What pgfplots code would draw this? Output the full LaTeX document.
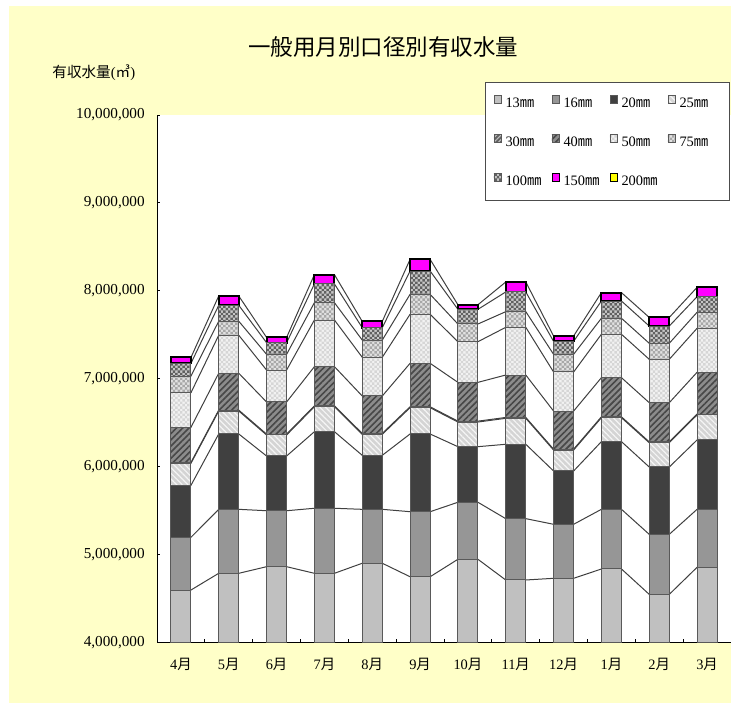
\documentclass[border=0pt]{standalone}
\usepackage{fontspec}
\setmainfont{Liberation Serif}
\newfontfamily\cjk{Noto Sans CJK JP}
\usepackage{pgfplots}
\pgfplotsset{compat=1.18}
\usepackage{pgfplotstable}
\usetikzlibrary{patterns,patterns.meta}

\pgfdeclarepatternformonly{smallcheck}{\pgfqpoint{-0.05pt}{-0.05pt}}{\pgfqpoint{2.45pt}{2.45pt}}{\pgfqpoint{2.4pt}{2.4pt}}{%
 \pgfpathrectangle{\pgfqpoint{0pt}{0pt}}{\pgfqpoint{1.2pt}{1.2pt}}%
 \pgfpathrectangle{\pgfqpoint{1.2pt}{1.2pt}}{\pgfqpoint{1.2pt}{1.2pt}}%
 \pgfusepath{fill}}

\definecolor{bg}{RGB}{255,255,200}
\definecolor{c13}{RGB}{192,192,192}
\definecolor{c16}{RGB}{150,150,150}
\definecolor{c20}{RGB}{64,64,64}
\definecolor{c25}{RGB}{212,212,212}
\definecolor{c30}{RGB}{96,96,96}
\definecolor{c40}{RGB}{140,140,140}
\definecolor{c50}{RGB}{242,242,242}
\definecolor{c75}{RGB}{226,226,226}
\definecolor{c100}{RGB}{200,200,200}
\definecolor{mag}{RGB}{255,0,255}
\definecolor{yel}{RGB}{255,255,0}

\newcommand\tsuki{{\cjk 月}}
\newcommand\mm{{\cjk ㎜}}

\pgfplotstableread{
m s13 s16 s20 s25 s30 s40 s50 s75 s100 s150 s200
0 4602000 599000 591000 250000 10000 399000 393000 190000 144000 67000 0
1 4792000 727000 856000 261000 10000 419000 432000 159000 181000 106000 0
2 4867000 636000 622000 239000 10000 365000 363000 179000 132000 60000 0
3 4792000 739000 870000 284000 10000 445000 530000 197000 213000 105000 0
4 4906000 613000 614000 239000 10000 425000 440000 196000 140000 72000 0
5 4753000 739000 883000 299000 10000 494000 557000 227000 265000 132000 0
6 4951000 648000 632000 280000 10000 441000 462000 201000 167000 52000 0
7 4716000 697000 845000 295000 10000 482000 542000 178000 224000 113000 0
8 4735000 614000 606000 238000 10000 433000 444000 201000 147000 61000 0
9 4841000 678000 769000 272000 10000 445000 493000 182000 196000 95000 0
10 4553000 682000 765000 276000 10000 445000 493000 182000 196000 98000 0
11 4860000 659000 788000 284000 10000 475000 500000 182000 177000 106000 0
}\bars

\pgfplotstableread{
x s13 s16 s20 s25 s30 s40 s50 s75 s100 s150
-0.21 4602000 599000 591000 250000 10000 399000 393000 190000 144000 67000
0.21 4602000 599000 591000 250000 10000 399000 393000 190000 144000 67000
0.79 4792000 727000 856000 261000 10000 419000 432000 159000 181000 106000
1.21 4792000 727000 856000 261000 10000 419000 432000 159000 181000 106000
1.79 4867000 636000 622000 239000 10000 365000 363000 179000 132000 60000
2.21 4867000 636000 622000 239000 10000 365000 363000 179000 132000 60000
2.79 4792000 739000 870000 284000 10000 445000 530000 197000 213000 105000
3.21 4792000 739000 870000 284000 10000 445000 530000 197000 213000 105000
3.79 4906000 613000 614000 239000 10000 425000 440000 196000 140000 72000
4.21 4906000 613000 614000 239000 10000 425000 440000 196000 140000 72000
4.79 4753000 739000 883000 299000 10000 494000 557000 227000 265000 132000
5.21 4753000 739000 883000 299000 10000 494000 557000 227000 265000 132000
5.79 4951000 648000 632000 280000 10000 441000 462000 201000 167000 52000
6.21 4951000 648000 632000 280000 10000 441000 462000 201000 167000 52000
6.79 4716000 697000 845000 295000 10000 482000 542000 178000 224000 113000
7.21 4716000 697000 845000 295000 10000 482000 542000 178000 224000 113000
7.79 4735000 614000 606000 238000 10000 433000 444000 201000 147000 61000
8.21 4735000 614000 606000 238000 10000 433000 444000 201000 147000 61000
8.79 4841000 678000 769000 272000 10000 445000 493000 182000 196000 95000
9.21 4841000 678000 769000 272000 10000 445000 493000 182000 196000 95000
9.79 4553000 682000 765000 276000 10000 445000 493000 182000 196000 98000
10.21 4553000 682000 765000 276000 10000 445000 493000 182000 196000 98000
10.79 4860000 659000 788000 284000 10000 475000 500000 182000 177000 106000
11.21 4860000 659000 788000 284000 10000 475000 500000 182000 177000 106000
}\lines

\pgfplotsset{
  seg/.style={draw=black!65, line width=0.5pt},
  sq/.style={legend image code/.code={\draw[line width=0.4pt,##1] (0pt,0.4pt) rectangle (3.6pt,4pt);}},
  st13/.style={seg, fill=c13, sq},
  st16/.style={seg, fill=c16, sq},
  st20/.style={seg, fill=c20, sq},
  st25/.style={seg, fill=c25, postaction={pattern={Lines[angle=-45,distance=2pt,line width=0.6pt]}, pattern color=white!96!black}, sq},
  st30/.style={seg, fill=c30, postaction={pattern={Lines[angle=45,distance=1.6pt,line width=0.5pt]}, pattern color=black!25}, sq},
  st40/.style={seg, fill=c40, postaction={pattern={Lines[angle=45,distance=2.2pt,line width=0.8pt]}, pattern color=black!72}, sq},
  st50/.style={seg, fill=c50, postaction={pattern=smallcheck, pattern color=black!16}, sq},
  st75/.style={seg, fill=c75, postaction={pattern=smallcheck, pattern color=black!34}, sq},
  st100/.style={seg, fill=c100, postaction={pattern=smallcheck, pattern color=black!62}, sq},
  st150/.style={draw=black, line width=1pt, fill=mag, sq},
  st200/.style={draw=black, line width=1pt, fill=yel, sq},
  sl/.style={black!75, line width=0.5pt, mark=none, sharp plot},
}

\begin{document}
\begin{tikzpicture}
\useasboundingbox (0pt,0pt) rectangle (365.5pt,352pt);
\fill[white] (0pt,0pt) rectangle (365.5pt,352pt);
\fill[bg] (4.5pt,0.5pt) rectangle (365.5pt,349pt);
\fill[white] (78.5pt,30.5pt) rectangle (365.5pt,294.5pt);

\begin{axis}[at={(78.5pt,30.5pt)}, anchor=south west, scale only axis,
  width=287pt, height=264pt, xmin=-0.5, xmax=11.5, ymin=4000000, ymax=10000000,
  hide axis, stack plots=y]
\addplot[sl] table[x=x,y=s13]{\lines};
\addplot[sl] table[x=x,y=s16]{\lines};
\addplot[sl] table[x=x,y=s20]{\lines};
\addplot[sl] table[x=x,y=s25]{\lines};
\addplot[sl] table[x=x,y=s30]{\lines};
\addplot[sl] table[x=x,y=s40]{\lines};
\addplot[sl] table[x=x,y=s50]{\lines};
\addplot[sl] table[x=x,y=s75]{\lines};
\addplot[sl] table[x=x,y=s100]{\lines};
\addplot[sl] table[x=x,y=s150]{\lines};
\end{axis}

\begin{axis}[at={(78.5pt,30.5pt)}, anchor=south west, scale only axis,
  width=287pt, height=264pt, xmin=-0.5, xmax=11.5, ymin=4000000, ymax=10000000,
  ybar stacked, bar width=0.42,
  axis x line*=bottom, axis y line*=left,
  axis line style={-, black, line width=0.5pt},
  tick align=inside,
  major tick length=1.5pt, minor tick length=2pt,
  ytick={4000000,5000000,6000000,7000000,8000000,9000000,10000000},
  xtick={0,1,2,3,4,5,6,7,8,9,10,11},
  xticklabels={4\tsuki,5\tsuki,6\tsuki,7\tsuki,8\tsuki,9\tsuki,10\tsuki,11\tsuki,12\tsuki,1\tsuki,2\tsuki,3\tsuki},
  minor xtick={0.5,1.5,...,10.5},
  major x tick style={draw=none},
  minor x tick style={black, line width=0.5pt},
  y tick style={black, line width=0.5pt},
  scaled y ticks=false,
  /pgf/number format/fixed, /pgf/number format/precision=0,
  /pgf/number format/1000 sep={,}, /pgf/number format/assume math mode=true,
  yticklabel style={font=\fontsize{7.6}{9}\selectfont, anchor=east, inner sep=0pt, xshift=-6pt},
  xticklabel style={font=\fontsize{7.2}{8}\selectfont, anchor=center, inner sep=0pt, yshift=-10.5pt},
  legend columns=4, legend cell align=left,
  legend style={at={(0.9983,1.0625)}, anchor=north east, draw=black!70, fill=white,
    line width=0.5pt, font=\fontsize{7.2}{8}\selectfont,
    inner xsep=4pt, inner ysep=6.4pt, row sep=12.3pt, column sep=2pt,
    nodes={inner sep=0pt, text width=21pt, align=left, text height=5pt, text depth=1pt}},
]
\addplot[st13] table[x=m,y=s13]{\bars};
\addplot[st16] table[x=m,y=s16]{\bars};
\addplot[st20] table[x=m,y=s20]{\bars};
\addplot[st25] table[x=m,y=s25]{\bars};
\addplot[st30] table[x=m,y=s30]{\bars};
\addplot[st40] table[x=m,y=s40]{\bars};
\addplot[st50] table[x=m,y=s50]{\bars};
\addplot[st75] table[x=m,y=s75]{\bars};
\addplot[st100] table[x=m,y=s100]{\bars};
\addplot[st150] table[x=m,y=s150]{\bars};
\addplot[st200] table[x=m,y=s200]{\bars};
\legend{13\mm,16\mm,20\mm,25\mm,30\mm,40\mm,50\mm,75\mm,100\mm,150\mm,200\mm}
\end{axis}

\node[font=\cjk\fontsize{11.25}{13}\selectfont, inner sep=0pt] at (191.5pt,328.5pt) {一般用月別口径別有収水量};
\node[anchor=west, font=\fontsize{7.3}{9}\selectfont, inner sep=0pt] at (26pt,315.5pt) {{\cjk 有収水量}({\cjk ㎥})};
\end{tikzpicture}
\end{document}
